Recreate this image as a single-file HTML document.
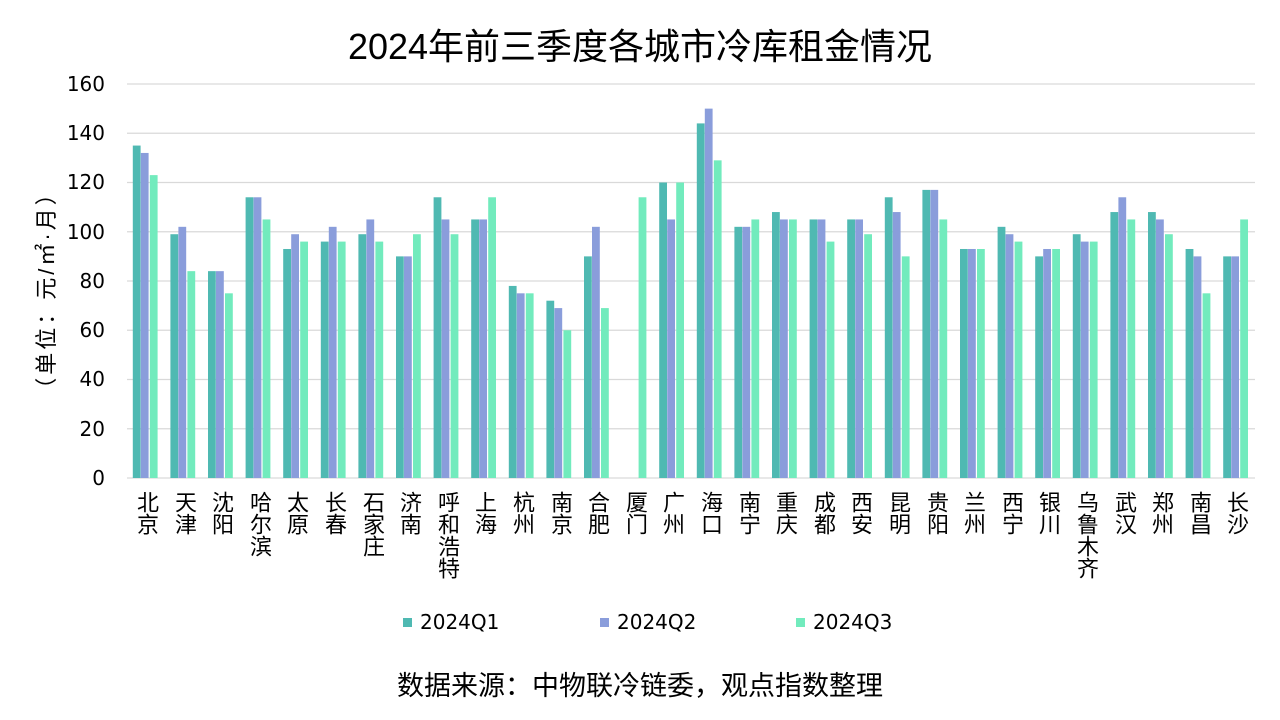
<!DOCTYPE html>
<html><head><meta charset="utf-8"><style>
body{margin:0;width:1280px;height:720px;background:#fff;overflow:hidden;position:relative;font-family:"DejaVu Sans","WenQuanYi Zen Hei",sans-serif;color:#000}
.t{position:absolute;white-space:nowrap}
.c{position:absolute;top:491px;writing-mode:vertical-rl;font-size:22px;line-height:22px;width:22px;font-family:"WenQuanYi Zen Hei",sans-serif}
.y{position:absolute;right:1175px;font-size:20px;text-align:right}
</style></head><body>
<svg id="s" width="1280" height="720" style="position:absolute;left:0;top:0"></svg>
<div class="t" style="left:0;width:1280px;text-align:center;top:26px;font-size:36px;line-height:42px;font-family:'WenQuanYi Zen Hei',sans-serif">2024年前三季度各城市冷库租金情况</div>
<div class="y" style="top:72px">160</div>
<div class="y" style="top:121px">140</div>
<div class="y" style="top:170px">120</div>
<div class="y" style="top:220px">100</div>
<div class="y" style="top:269px">80</div>
<div class="y" style="top:318px">60</div>
<div class="y" style="top:367px">40</div>
<div class="y" style="top:417px">20</div>
<div class="y" style="top:466px">0</div>
<div class="t" style="left:45px;top:290px;transform:translate(-50%,-50%) rotate(-90deg);font-size:22px;letter-spacing:3px;font-family:'WenQuanYi Zen Hei',sans-serif">（单位：元/㎡·月）</div>
<div id="cities">
<div class="c" style="left:135px">北京</div>
<div class="c" style="left:173px">天津</div>
<div class="c" style="left:210px">沈阳</div>
<div class="c" style="left:248px">哈尔滨</div>
<div class="c" style="left:285px">太原</div>
<div class="c" style="left:323px">长春</div>
<div class="c" style="left:361px">石家庄</div>
<div class="c" style="left:398px">济南</div>
<div class="c" style="left:436px">呼和浩特</div>
<div class="c" style="left:473px">上海</div>
<div class="c" style="left:511px">杭州</div>
<div class="c" style="left:549px">南京</div>
<div class="c" style="left:586px">合肥</div>
<div class="c" style="left:624px">厦门</div>
<div class="c" style="left:661px">广州</div>
<div class="c" style="left:699px">海口</div>
<div class="c" style="left:737px">南宁</div>
<div class="c" style="left:774px">重庆</div>
<div class="c" style="left:812px">成都</div>
<div class="c" style="left:849px">西安</div>
<div class="c" style="left:887px">昆明</div>
<div class="c" style="left:925px">贵阳</div>
<div class="c" style="left:962px">兰州</div>
<div class="c" style="left:1000px">西宁</div>
<div class="c" style="left:1037px">银川</div>
<div class="c" style="left:1075px">乌鲁木齐</div>
<div class="c" style="left:1113px">武汉</div>
<div class="c" style="left:1150px">郑州</div>
<div class="c" style="left:1188px">南昌</div>
<div class="c" style="left:1225px">长沙</div>
</div>
<div class="t" style="left:403px;top:618px;width:9px;height:9px;background:#4fb9b2"></div>
<div class="t" style="left:420px;top:610px;font-size:20px">2024Q1</div>
<div class="t" style="left:600px;top:618px;width:9px;height:9px;background:#8a9ddb"></div>
<div class="t" style="left:617px;top:610px;font-size:20px">2024Q2</div>
<div class="t" style="left:796px;top:618px;width:9px;height:9px;background:#72ebbd"></div>
<div class="t" style="left:813px;top:610px;font-size:20px">2024Q3</div>
<div class="t" style="left:0;width:1280px;text-align:center;top:670px;font-size:27px;line-height:32px;font-family:'WenQuanYi Zen Hei',sans-serif">数据来源：中物联冷链委，观点指数整理</div>
<script>
var d=[[135,132,123],[99,102,84],[84,84,75],[114,114,105],[93,99,96],[96,102,96],[99,105,96],[90,90,99],[114,105,99],[105,105,114],[78,75,75],[72,69,60],[90,102,69],[0,0,114],[120,105,120],[144,150,129],[102,102,105],[108,105,105],[105,105,96],[105,105,99],[114,108,90],[117,117,105],[93,93,93],[102,99,96],[90,93,93],[99,96,96],[108,114,105],[108,105,99],[93,90,75],[90,90,105]];
var col=["#4fb9b2","#8a9ddb","#72ebbd"],off=[-13,-5,4],h='';
for(var v=0;v<=160;v+=20){var y=478-v*2.4625;h+='<line x1="127" x2="1255" y1="'+y+'" y2="'+y+'" stroke="#d9d9d9" stroke-width="1.3"/>';}
d.forEach(function(r,i){var c=127+37.6*(i+0.5);r.forEach(function(v,k){if(!v)return;var hh=v*2.4625;h+='<rect x="'+(c+off[k])+'" y="'+(478-hh)+'" width="7.8" height="'+hh+'" fill="'+col[k]+'"/>';});});
document.getElementById('s').innerHTML=h;
</script>
</body></html>
